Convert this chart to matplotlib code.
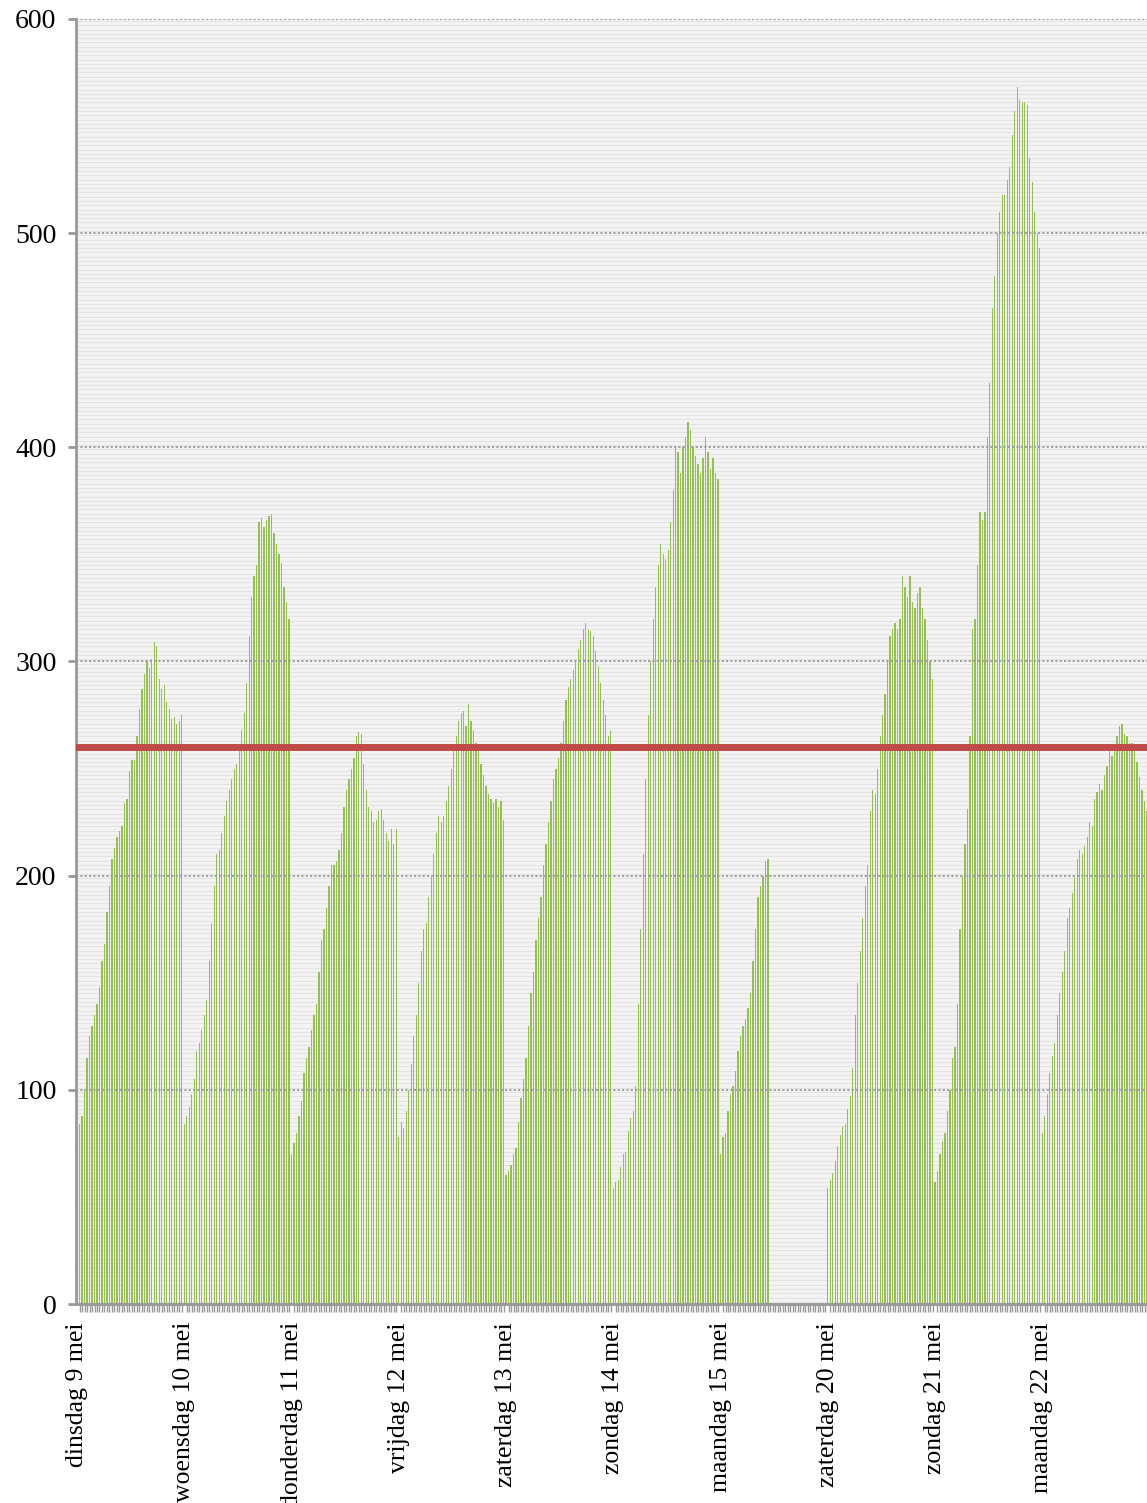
import numpy as np
import matplotlib
matplotlib.use('Agg')
import matplotlib.pyplot as plt

# day labels and one value per interval (43 per day)
days = ['dinsdag 9 mei', 'woensdag 10 mei', 'donderdag 11 mei', 'vrijdag 12 mei',
        'zaterdag 13 mei', 'zondag 14 mei', 'maandag 15 mei', 'zaterdag 20 mei',
        'zondag 21 mei', 'maandag 22 mei']

di_9 = [80, 84, 88, 100, 115, 125, 130, 135, 140, 148, 160, 168, 183, 195, 208, 213,
        218, 221, 223, 234, 236, 249, 254, 254, 265, 278, 287, 294, 300, 297, 301, 309,
        307, 292, 287, 289, 281, 278, 273, 274, 271, 272, 275]
wo_10 = [84, 88, 92, 98, 105, 118, 122, 128, 135, 142, 160, 178, 195, 210, 212, 220,
         228, 235, 240, 245, 250, 252, 258, 268, 276, 290, 312, 330, 340, 345, 365, 367,
         363, 366, 368, 369, 360, 355, 350, 346, 335, 328, 320]
do_11 = [70, 75, 80, 88, 95, 108, 115, 120, 128, 135, 140, 155, 170, 175, 185, 195,
         205, 205, 207, 212, 220, 232, 240, 245, 250, 255, 265, 267, 266, 252, 240, 232,
         230, 225, 226, 230, 231, 226, 220, 216, 222, 215, 222]
vr_12 = [78, 85, 82, 90, 100, 112, 125, 135, 150, 165, 175, 178, 190, 200, 210, 220,
         228, 225, 228, 235, 242, 250, 258, 265, 272, 276, 277, 270, 280, 272, 268, 262,
         258, 252, 247, 242, 238, 236, 234, 236, 232, 235, 226]
za_13 = [60, 62, 65, 70, 73, 85, 96, 105, 115, 130, 145, 155, 170, 180, 190, 205,
         215, 225, 235, 245, 250, 255, 262, 272, 282, 288, 292, 296, 300, 306, 310, 315,
         318, 315, 314, 312, 305, 298, 290, 282, 275, 265, 268]
zo_14 = [54, 57, 58, 64, 70, 71, 81, 87, 90, 102, 140, 175, 210, 245, 275, 300,
         320, 335, 345, 355, 350, 348, 352, 365, 380, 400, 398, 388, 400, 405, 412, 408,
         400, 396, 392, 388, 395, 405, 398, 390, 395, 388, 385]
ma_15 = [70, 78, 80, 90, 98, 102, 109, 118, 125, 130, 133, 138, 145, 160, 175, 190,
         195, 200, 207, 208] + [None] * 23
za_20 = [54, 58, 61, 67, 74, 79, 83, 84, 91, 97, 110, 135, 150, 165, 180, 195,
         205, 230, 240, 238, 250, 265, 275, 285, 300, 312, 315, 318, 315, 320, 340, 335,
         330, 340, 328, 325, 332, 335, 325, 320, 310, 300, 292]
zo_21 = [57, 62, 70, 76, 80, 90, 100, 115, 120, 140, 175, 200, 215, 231, 265, 315,
         320, 345, 370, 366, 370, 405, 430, 465, 480, 500, 510, 518, 518, 525, 531, 546,
         557, 568, 562, 561, 561, 560, 535, 524, 510, 500, 493]
ma_22 = [80, 88, 98, 108, 116, 122, 135, 145, 155, 165, 180, 185, 192, 200, 208, 212,
         210, 214, 218, 225, 223, 236, 239, 243, 240, 247, 251, 258, 256, 259, 265, 270,
         271, 266, 265, 262, 262, 259, 253, 246, 240, 235, 230]

average = 260
per_day = 43

vals = di_9 + wo_10 + do_11 + vr_12 + za_13 + zo_14 + ma_15 + za_20 + zo_21 + ma_22
vals = np.array([np.nan if v is None else v for v in vals], dtype=float)
x = np.arange(len(vals))
ok = ~np.isnan(vals)

plt.rcParams['font.family'] = ['Liberation Serif', 'DejaVu Serif']

fig = plt.figure(figsize=(11.47, 15.03), dpi=100)
ax = fig.add_axes([0.0663, 0.1324, 0.9337, 0.8550])
ax.set_facecolor('#f3f3f3')

# striped background
for yy in np.arange(1, 600, 2):
    ax.axhline(yy, color='#e3e3e3', lw=0.8, zorder=0)

ax.bar(x[ok], vals[ok], width=0.5, color='#93c04e', zorder=2)

ax.axhline(average, color='#bf4a47', lw=5, zorder=4)

ax.set_ylim(0, 600)
ax.set_xlim(-0.4, 427.0)
ax.set_yticks(range(0, 601, 100))
ax.yaxis.grid(True, color='#999999', lw=1.3, linestyle=(0, (1.2, 1.2)), zorder=3)
ax.set_axisbelow(False)

ax.set_xticks(np.arange(len(days)) * per_day)
ax.set_xticklabels(days, rotation=90, va='top', ha='center', fontsize=18.5)
ax.set_xticks(x, minor=True)
ax.tick_params(axis='x', which='major', length=0, pad=13)
ax.tick_params(axis='x', which='minor', length=6, width=1.0, color='#999999')
ax.tick_params(axis='y', length=6, width=2, color='#999999', labelsize=20, pad=8)

for s in ['top', 'right']:
    ax.spines[s].set_visible(False)
ax.spines['left'].set_color('#999999')
ax.spines['left'].set_linewidth(2)
ax.spines['bottom'].set_color('#999999')
ax.spines['bottom'].set_linewidth(2)

plt.savefig('out.png', dpi=100)
